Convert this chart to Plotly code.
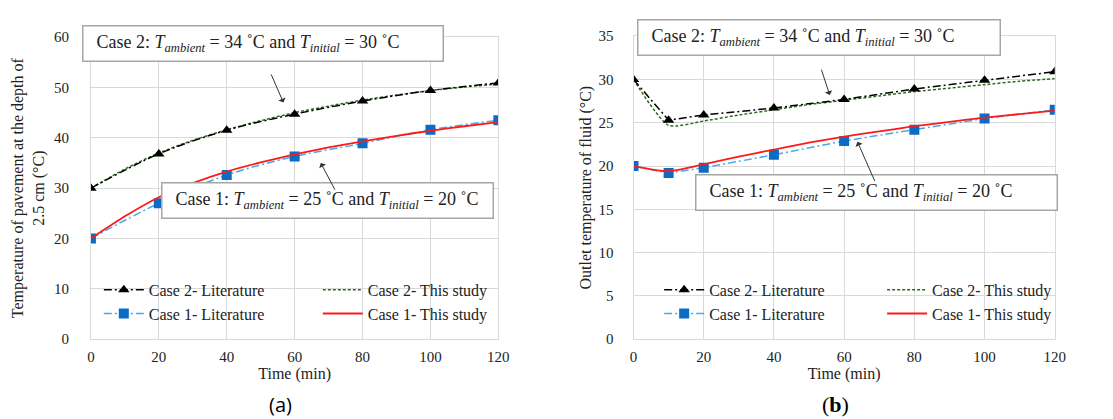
import plotly.graph_objects as go

# ---------- data (a) ----------
t_lit_a = [0, 20, 40, 60, 80, 100, 120]
c2_lit_a = [30.0, 36.8, 41.5, 44.7, 47.3, 49.4, 50.9]
c1_lit_a = [20.0, 27.0, 32.6, 36.3, 38.9, 41.6, 43.5]
t_sim_a = [0, 10, 20, 30, 40, 50, 60, 70, 80, 90, 100, 110, 120]
c2_sim_a = [30.0, 33.8, 37.0, 39.5, 41.6, 43.4, 45.0, 46.3, 47.5, 48.5, 49.4, 50.1, 50.7]
c1_sim_a = [20.0, 24.4, 28.2, 31.0, 33.3, 35.1, 36.7, 38.1, 39.3, 40.4, 41.4, 42.3, 43.1]

# ---------- data (b) ----------
t_lit_b = [0, 10, 20, 40, 60, 80, 100, 120]
c2_lit_b = [30.0, 25.3, 25.9, 26.7, 27.7, 28.9, 29.9, 30.9]
c1_lit_b = [20.0, 19.2, 19.8, 21.3, 22.9, 24.2, 25.5, 26.5]
t_sim_b = [0, 10, 20, 30, 40, 50, 60, 70, 80, 90, 100, 110, 120]
c2_sim_b = [30.0, 24.7, 25.2, 25.9, 26.5, 27.1, 27.6, 28.1, 28.6, 29.0, 29.4, 29.8, 30.1]
c1_sim_b = [20.0, 19.4, 20.2, 21.1, 21.9, 22.7, 23.4, 24.0, 24.6, 25.1, 25.6, 26.0, 26.4]

names = ["Case 2- Literature", "Case 1- Literature", "Case 2- This study", "Case 1- This study"]
x_ticks = [0, 20, 40, 60, 80, 100, 120]

FONT = "'Liberation Serif', 'Times New Roman', 'DejaVu Serif', serif"
GRID = "#d9d9d9"

fig = go.Figure()

def add_panel(xa, ya, t_lit, c2_lit, c1_lit, t_sim, c2_sim, c1_sim, leg_lit, leg_sim, lit_shape):
    fig.add_trace(go.Scatter(x=t_sim, y=c2_sim, name=names[2], mode="lines",
                             line=dict(color="#2f6b1f", width=1.5, dash="3px,2px", shape="spline", smoothing=0.6),
                             xaxis=xa, yaxis=ya, legend=leg_sim))
    fig.add_trace(go.Scatter(x=t_lit, y=c2_lit, name=names[0], mode="lines+markers",
                             line=dict(color="black", width=1.5, dash="8px,3px,2px,3px", shape=lit_shape),
                             marker=dict(symbol="triangle-up", size=10, color="black"),
                             xaxis=xa, yaxis=ya, legend=leg_lit))
    fig.add_trace(go.Scatter(x=t_lit, y=c1_lit, name=names[1], mode="lines+markers",
                             line=dict(color="#4aa8e8", width=1.5, dash="8px,3px,2px,3px", shape=lit_shape),
                             marker=dict(symbol="square", size=10, color="#0a6cc4"),
                             xaxis=xa, yaxis=ya, legend=leg_lit))
    fig.add_trace(go.Scatter(x=t_sim, y=c1_sim, name=names[3], mode="lines",
                             line=dict(color="#ff1a1a", width=1.8, shape="spline", smoothing=0.6),
                             xaxis=xa, yaxis=ya, legend=leg_sim))

add_panel("x", "y", t_lit_a, c2_lit_a, c1_lit_a, t_sim_a, c2_sim_a, c1_sim_a, "legend", "legend2", "spline")
add_panel("x2", "y2", t_lit_b, c2_lit_b, c1_lit_b, t_sim_b, c2_sim_b, c1_sim_b, "legend3", "legend4", "linear")

W, H = 1113, 419
def px_x(p):
    return p / W
def px_y(p):
    return 1 - p / H

axis_common = dict(showgrid=True, gridcolor=GRID, gridwidth=1, zeroline=False,
                   showline=True, linecolor=GRID, linewidth=1, mirror=True,
                   ticks="outside", tickcolor="rgba(0,0,0,0)",
                   tickfont=dict(family=FONT, size=15, color="#222"))

fig.update_layout(
    width=W, height=H,
    margin=dict(l=0, r=0, t=0, b=0),
    paper_bgcolor="white", plot_bgcolor="white",
    font=dict(family=FONT, size=15, color="#222"),
    xaxis=dict(domain=[px_x(80), px_x(493)], range=[0, 120], tickvals=x_ticks, anchor="y", ticklen=4,
               title=dict(text="Time (min)", font=dict(family=FONT, size=16), standoff=2), **axis_common),
    yaxis=dict(domain=[px_y(336), px_y(22)], range=[0, 60], dtick=10, anchor="x", ticklen=18,
               title=dict(text="Temperature of pavement at the depth of<br>2.5 cm (°C)",
                          font=dict(family=FONT, size=16), standoff=5), **axis_common),
    xaxis2=dict(domain=[px_x(630), px_x(1057)], range=[0, 120], tickvals=x_ticks, anchor="y2", ticklen=4,
                title=dict(text="Time (min)", font=dict(family=FONT, size=16), standoff=2), **axis_common),
    yaxis2=dict(domain=[px_y(336), px_y(21)], range=[0, 35], dtick=5, anchor="x2", ticklen=16,
                title=dict(text="Outlet temperature of fluid (°C)",
                           font=dict(family=FONT, size=16), standoff=2), **axis_common),
    showlegend=True,
)

leg_common = dict(bgcolor="rgba(0,0,0,0)", font=dict(family=FONT, size=16, color="#222"),
                  xanchor="left", yanchor="top", traceorder="normal", itemwidth=40,
                  tracegroupgap=0)
fig.update_layout(
    legend=dict(x=px_x(88), y=px_y(267), **leg_common),
    legend2=dict(x=px_x(310), y=px_y(267), **leg_common),
    legend3=dict(x=px_x(656), y=px_y(267), **leg_common),
    legend4=dict(x=px_x(882), y=px_y(267), **leg_common),
)

def box_text(case, amb, ini):
    return ("&nbsp;&nbsp;" + case + ": <i>T</i><sub><i>ambient</i></sub> = " + amb +
            " ˚C and <i>T</i><sub><i>initial</i></sub> = " + ini + " ˚C")

ann_font = dict(family=FONT, size=18, color="#222")
boxes = [
    ("x", "y", 50.7, 58.7, 351, box_text("Case 2", "34", "30")),
    ("x", "y", 69.7, 27.6, 322, box_text("Case 1", "25", "20")),
    ("x2", "y2", 52.7, 34.8, 353, box_text("Case 2", "34", "30")),
    ("x2", "y2", 69.1, 16.9, 352, box_text("Case 1", "25", "20")),
]
for xr, yr, bx, by, w, txt in boxes:
    fig.add_annotation(x=bx, y=by, xref=xr, yref=yr, text=txt, showarrow=False,
                       width=w, height=26, align="left", valign="middle",
                       bgcolor="white", bordercolor="#a6a6a6", borderwidth=1.5, borderpad=4,
                       font=ann_font)

arrows = [
    ("x", "y", 56.7, 47.0, 52.9, 52.9),
    ("x", "y", 67.7, 35.0, 72.1, 29.4),
    ("x2", "y2", 55.9, 28.2, 53.4, 31.3),
    ("x2", "y2", 63.8, 22.8, 68.9, 18.1),
]
for xr, yr, hx, hy, tx, ty in arrows:
    fig.add_annotation(x=hx, y=hy, xref=xr, yref=yr, ax=tx, ay=ty, axref=xr, ayref=yr,
                       text="", showarrow=True, arrowhead=1, arrowsize=1.3, arrowwidth=1,
                       arrowcolor="#333")

fig.add_annotation(x=px_x(272), y=px_y(404), xref="paper", yref="paper", text="(a)",
                   yanchor="middle", xanchor="center",
                   showarrow=False, font=dict(family="'Open Sans', sans-serif", size=20, color="black"))
fig.add_annotation(x=px_x(835), y=px_y(404), xref="paper", yref="paper", text="(<b>b</b>)",
                   yanchor="middle", xanchor="center",
                   showarrow=False, font=dict(family=FONT, size=22, color="black"))

fig.write_html("out.html")
